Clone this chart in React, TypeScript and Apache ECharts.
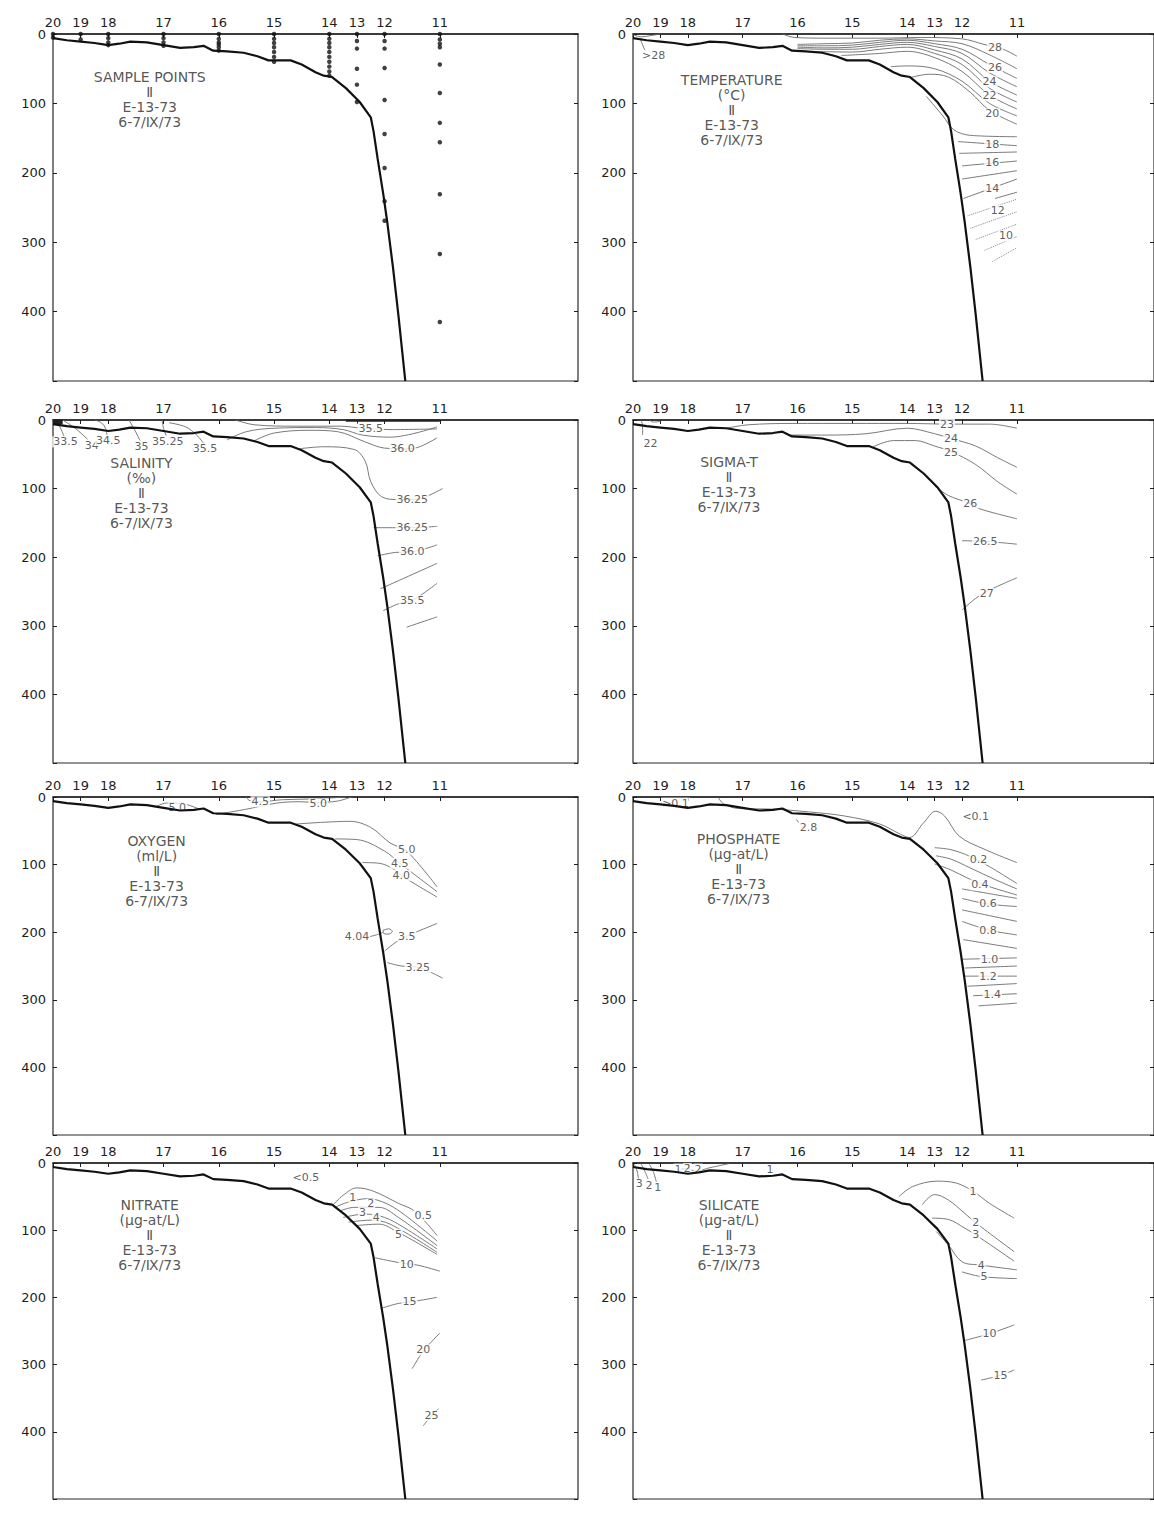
import React, { useEffect, useRef } from 'react';
import * as echarts from 'echarts';

// ---------- DATA ----------
const stationNames = ['20', '19', '18', '17', '16', '15', '14', '13', '12', '11'];
const stationPos = [0, 1, 2, 4, 6, 8, 10, 11, 12, 14];
const depthTicks = [0, 100, 200, 300, 400];

// bottom profile [distance unit, depth m]
const seafloor = [
  [0, 6], [0.5, 9], [1, 11], [1.5, 13], [2, 16], [2.4, 14], [2.8, 11], [3.4, 12], [4, 16], [4.6, 20],
  [5.1, 19], [5.45, 17], [5.8, 24], [6.3, 25], [6.9, 27], [7.4, 32], [7.8, 38], [8.6, 38], [9.0, 44],
  [9.5, 55], [9.8, 60], [10.1, 62], [10.6, 78], [11.1, 98], [11.5, 120], [11.6, 140], [11.75, 180],
  [11.95, 230], [12.1, 272], [12.3, 335], [12.5, 405], [12.75, 500],
];

// sample depths per station (same order as stationNames)
const sampleDepths = [
  [0, 5],
  [0, 8],
  [0, 6, 12, 16],
  [0, 6, 12, 17],
  [0, 7, 12, 15, 19, 24],
  [0, 7, 13, 19, 26, 33, 40],
  [0, 7, 13, 19, 26, 33, 40, 47, 54, 60],
  [0, 10, 21, 50, 73, 98],
  [0, 10, 21, 49, 95, 144, 193, 241, 269],
  [0, 8, 14, 19, 44, 85, 128, 156, 231, 317, 415],
];

// TEMPERATURE
const temperatureLines = [
  [[0, 1], [0.3, 4], [0.7, 2], [1, 0]],
  [[0.25, 6], [0.45, 25]],
  [[5.45, 0], [5.9, 5], [7, 6], [9, 6], [10.5, 5], [12, 7], [12.8, 15], [13.5, 22], [14, 32]],
  [[6, 15], [7, 14], [8, 13], [9, 9], [10, 7], [11, 10], [12, 14], [13, 30], [14, 50]],
  [[6, 17], [7, 17], [8, 16], [9, 12], [10, 9], [11, 14], [12, 22], [13, 44], [14, 64]],
  [[6, 19], [7, 20], [8, 19], [9, 15], [10, 12], [11, 18], [12, 28], [13, 56], [14, 76]],
  [[6, 21], [7, 22], [8, 22], [9, 18], [10, 15], [11, 23], [12, 36], [13, 68], [14, 88]],
  [[6.5, 25], [8, 26], [9, 22], [10, 19], [11, 28], [12, 44], [13, 78], [14, 98]],
  [[7.6, 31], [9, 28], [10, 25], [11, 34], [12, 54], [13, 88], [14, 108]],
  [[9.4, 47], [10, 46], [11, 50], [12, 68], [13, 100], [14, 118]],
  [[10.1, 63], [10.8, 58], [11.5, 62], [12.3, 84], [13, 110], [14, 130]],
  [[10.7, 90], [11.3, 118], [11.7, 138], [12.3, 146], [14, 148]],
  [[11.85, 155], [14, 161]],
  [[11.9, 172], [14, 170]],
  [[12, 190], [14, 183]],
  [[12, 209], [14, 197]],
  [[12.05, 237], [14, 209]],
  [[13.2, 237], [14, 228]],
];
const temperatureDotted = [
  [[12.2, 262], [14, 238]],
  [[12.3, 280], [14, 256]],
  [[12.5, 296], [14, 274]],
  [[12.8, 312], [14, 292]],
  [[13.1, 328], [14, 308]],
];
const temperatureLabels = [
  [0.75, 31, '>28'], [13.2, 19, '28'], [13.2, 48, '26'], [13.0, 69, '24'], [13.0, 89, '22'],
  [13.1, 115, '20'], [13.1, 159, '18'], [13.1, 185, '16'], [13.1, 222, '14'], [13.3, 254, '12'], [13.6, 291, '10'],
];

// SALINITY
const salinityLines = [
  [[0.1, 0], [0.25, 10], [0.4, 24]],
  [[0.35, 0], [0.8, 12], [1.25, 28]],
  [[1.5, 0], [1.75, 4], [1.9, 12], [1.95, 22]],
  [[2.75, 0], [2.95, 14], [3.15, 30]],
  [[3.95, 0], [4.0, 12], [4.1, 23]],
  [[4.2, 4], [4.8, 10], [5.2, 22], [5.45, 34]],
  [[6.6, 0], [7.3, 7], [8.8, 9], [10.4, 9], [11.2, 12], [12.2, 14], [13.9, 13]],
  [[6.3, 29], [7, 17], [8, 12], [9.5, 11], [10.5, 14], [11.2, 22], [12.2, 25], [13.9, 10]],
  [[7.3, 30], [8, 19], [9.3, 15], [10.3, 17], [11.3, 32], [12.0, 41], [12.7, 42], [13.2, 40], [13.9, 26]],
  [[8.9, 42], [9.8, 39], [10.9, 43], [11.3, 60], [11.5, 90], [11.9, 112], [12.5, 116], [13.2, 116], [13.6, 110], [14.1, 100]],
  [[11.6, 157], [12.4, 157], [13, 157], [13.9, 155]],
  [[11.75, 198], [12.4, 193], [13, 192], [13.9, 182]],
  [[11.85, 246], [13.9, 209]],
  [[11.95, 278], [12.5, 268], [13, 263], [13.9, 238]],
  [[12.8, 302], [13.9, 287]],
];
const salinityBands = [
  [[0, 2.5], [0.35, 2.5]],
  [[10.6, 1], [14, 1]],
];
const salinityLabels = [
  [0.45, 32, '33.5'], [1.4, 37, '34'], [2.0, 30, '34.5'], [3.2, 39, '35'], [4.15, 31, '35.25'],
  [5.5, 42, '35.5'], [11.5, 12, '35.5'], [12.65, 42, '36.0'], [13.0, 116, '36.25'],
  [13.0, 157, '36.25'], [13.0, 192, '36.0'], [13.0, 263, '35.5'],
];

// SIGMA-T
const sigmaLines = [
  [[0.3, 0], [0.35, 10], [0.35, 22]],
  [[0.6, 0], [0.75, 3], [1.0, 2]],
  [[3.4, 12], [4.2, 7], [5.8, 5], [8, 5], [10, 5], [11.5, 6], [13, 6], [14, 12]],
  [[5.75, 22], [7, 22], [8.5, 20], [10, 12], [11, 20], [11.6, 27], [12.5, 38], [13.3, 55], [14, 69]],
  [[8.76, 39], [9.5, 30], [10.3, 30], [11, 38], [11.6, 46], [12.5, 65], [13.3, 90], [14, 108]],
  [[11.0, 96], [11.5, 110], [12.3, 122], [12.6, 129], [14, 144]],
  [[12.0, 176], [12.85, 177], [14, 181]],
  [[12.0, 277], [12.5, 260], [13, 248], [14, 230]],
];
const sigmaLabels = [
  [0.64, 34, '22'], [11.45, 6, '23'], [11.6, 27, '24'], [11.6, 47, '25'], [12.3, 122, '26'],
  [12.85, 177, '26.5'], [12.9, 253, '27'],
];

// OXYGEN
const oxygenLines = [
  [[3.7, 15], [4.1, 9], [4.7, 10], [5.3, 18]],
  [[5.9, 26], [7.0, 18], [8.1, 9], [8.9, 7], [9.6, 8], [10.3, 6], [10.8, 0]],
  [[7.0, 0], [7.1, 5], [7.5, 7], [8.3, 4], [9.3, 3], [10.6, 0]],
  [[8.8, 40], [10.75, 36], [11.5, 45], [12.2, 68], [12.8, 80], [13.9, 133]],
  [[10.2, 62], [11.0, 63], [12.0, 80], [12.55, 98], [13.9, 140]],
  [[11.2, 97], [11.8, 98], [12.3, 106], [12.6, 116], [13.9, 148]],
  [[12.0, 228], [12.4, 215], [12.8, 206], [13.9, 187]],
  [[12.1, 245], [12.6, 250], [13.2, 252], [14.1, 268]],
  [[11.4, 207], [11.7, 204], [11.95, 200]],
  [[11.95, 197], [12.15, 195], [12.28, 199], [12.12, 203], [11.95, 201], [11.95, 197]],
];
const oxygenLabels = [
  [4.5, 16, '5.0'], [7.5, 7, '4.5'], [9.6, 10, '5.0'], [12.8, 77, '5.0'], [12.55, 98, '4.5'],
  [12.6, 116, '4.0'], [11.0, 206, '4.04'], [12.8, 206, '3.5'], [13.2, 252, '3.25'],
];

// PHOSPHATE
const phosphateLines = [
  [[3.1, 0], [3.3, 10], [3.85, 17], [5.1, 18], [6.4, 22], [7.7, 28], [9, 40], [9.75, 55], [10.08, 60],
    [10.6, 38], [11.04, 21], [11.36, 28], [11.9, 58], [12.8, 77], [14, 97]],
  [[5.95, 33], [6.05, 38]],
  [[11.0, 75], [11.6, 78], [12.3, 88], [13, 103], [14, 128]],
  [[11.05, 87], [11.6, 92], [12.3, 105], [13.2, 122], [14, 136]],
  [[11.0, 99], [11.6, 108], [12.2, 120], [12.8, 130], [14, 145]],
  [[12.0, 136], [13, 143], [14, 150]],
  [[12.0, 150], [12.9, 158], [14, 162]],
  [[12.0, 167], [14, 184]],
  [[12.0, 184], [13, 197], [14, 204]],
  [[12.05, 211], [14, 224]],
  [[12.0, 240], [14, 238]],
  [[12.1, 253], [14, 250]],
  [[12.1, 265], [14, 265]],
  [[12.2, 280], [14, 276]],
  [[12.4, 294], [14, 291]],
  [[12.6, 309], [14, 305]],
];
const phosphateLabels = [
  [1.55, 9, '>0.1'], [12.5, 29, '<0.1'], [6.4, 45, '2.8'], [12.6, 92, '0.2'], [12.65, 130, '0.4'],
  [12.95, 158, '0.6'], [12.95, 197, '0.8'], [13.0, 240, '1.0'], [12.95, 265, '1.2'], [13.1, 292, '1.4'],
];

// NITRATE
const nitrateLines = [
  [[10.1, 64], [10.5, 48], [11.0, 37], [11.6, 42], [12.5, 60], [13.1, 72], [13.9, 108]],
  [[10.2, 66], [10.7, 58], [11.4, 53], [12.1, 61], [12.75, 78], [13.9, 116]],
  [[10.4, 71], [10.9, 66], [11.8, 66], [12.5, 81], [13.9, 123]],
  [[10.5, 81], [11.3, 76], [12.0, 81], [12.7, 96], [13.9, 128]],
  [[10.7, 88], [11.5, 85], [12.2, 91], [13.9, 133]],
  [[11.0, 93], [11.8, 91], [12.4, 101], [13.9, 136]],
  [[11.65, 141], [12.5, 148], [13.2, 152], [14, 161]],
  [[11.9, 216], [12.5, 209], [13.2, 205], [13.9, 200]],
  [[13.0, 306], [13.4, 280], [14, 253]],
  [[13.4, 391], [13.7, 376], [13.95, 366]],
];
const nitrateLabels = [
  [9.15, 21, '<0.5'], [13.4, 78, '0.5'], [10.85, 51, '1'], [11.5, 61, '2'], [11.2, 73, '3'],
  [11.7, 81, '4'], [12.5, 106, '5'], [12.8, 151, '10'], [12.9, 206, '15'], [13.4, 278, '20'], [13.7, 376, '25'],
];

// SILICATE
const silicateLines = [
  [[0.05, 2], [0.15, 12], [0.2, 24]],
  [[0.3, 2], [0.45, 14], [0.55, 24]],
  [[0.6, 2], [0.75, 14], [0.85, 28]],
  [[1.55, 14], [1.9, 8], [2.3, 12], [2.8, 7], [3.5, 1]],
  [[4.95, 3], [5.0, 7]],
  [[9.7, 50], [10.2, 35], [11.1, 27], [11.8, 30], [12.4, 42], [13.0, 60], [13.9, 82]],
  [[10.55, 62], [11.0, 47], [11.5, 55], [12.1, 75], [12.5, 89], [13.9, 132]],
  [[10.9, 82], [11.5, 84], [12.1, 97], [12.5, 107], [13.9, 146]],
  [[11.06, 102], [11.5, 122], [12.0, 147], [12.7, 152], [14, 159]],
  [[12.0, 162], [12.7, 169], [14, 172]],
  [[12.1, 264], [13.0, 254], [13.9, 241]],
  [[12.7, 323], [13.4, 316], [13.9, 308]],
];
const silicateLabels = [
  [0.23, 31, '3'], [0.58, 33, '2'], [0.9, 37, '1'], [1.64, 9, '1'], [1.98, 8, '2'], [2.37, 9, '2'],
  [5.0, 10, '1'], [12.4, 42, '1'], [12.5, 89, '2'], [12.5, 107, '3'], [12.7, 152, '4'], [12.8, 169, '5'],
  [13.0, 254, '10'], [13.4, 316, '15'],
];

const panelTitles = ['SAMPLE POINTS', 'TEMPERATURE', 'SALINITY', 'SIGMA-T', 'OXYGEN', 'PHOSPHATE', 'NITRATE', 'SILICATE'];
const panelUnits = ['', '(°C)', '(‰)', '', '(ml/L)', '(µg-at/L)', '(µg-at/L)', '(µg-at/L)'];
const cruiseLines = ['Ⅱ', 'E-13-73', '6-7/Ⅸ/73'];
const titleAnchors = [[3.5, 50], [3.6, 55], [3.2, 51], [3.5, 50], [3.75, 53], [3.85, 51], [3.5, 51], [3.5, 51]];

// ---------- LAYOUT / STYLE ----------
const FONT = '"DejaVu Sans", "Liberation Sans", sans-serif';
const INK = '#1e1e1e';
const ROW_TOPS = [34, 420, 797, 1163];
const ROW_HEIGHTS = [347, 343, 338, 336];
const COL_LEFTS = [53, 633];
const COL_WIDTHS = [525, 528];

const panelData = [
  { lines: [], dotted: [], bands: [], labels: [] },
  { lines: temperatureLines, dotted: temperatureDotted, bands: [], labels: temperatureLabels },
  { lines: salinityLines, dotted: [], bands: salinityBands, labels: salinityLabels },
  { lines: sigmaLines, dotted: [], bands: [], labels: sigmaLabels },
  { lines: oxygenLines, dotted: [], bands: [], labels: oxygenLabels },
  { lines: phosphateLines, dotted: [], bands: [], labels: phosphateLabels },
  { lines: nitrateLines, dotted: [], bands: [], labels: nitrateLabels },
  { lines: silicateLines, dotted: [], bands: [], labels: silicateLabels },
];

function stationLabel(v: number): string {
  const i = stationPos.indexOf(Math.round(v * 100) / 100);
  return i >= 0 ? stationNames[i] : '';
}

function buildOption() {
  const grid: any[] = [];
  const xAxis: any[] = [];
  const yAxis: any[] = [];
  const series: any[] = [];

  panelData.forEach((p, i) => {
    const row = Math.floor(i / 2);
    const col = i % 2;
    grid.push({
      left: COL_LEFTS[col], top: ROW_TOPS[row], width: COL_WIDTHS[col], height: ROW_HEIGHTS[row],
      show: true, borderColor: '#2a2a2a', borderWidth: 1.2, backgroundColor: 'transparent',
    });
    xAxis.push({
      gridIndex: i, type: 'value', min: 0, max: 19, position: 'top',
      axisLine: { show: true, lineStyle: { color: INK, width: 1.5 } },
      axisTick: { show: true, inside: true, length: 4, customValues: stationPos, lineStyle: { color: INK } },
      axisLabel: {
        show: true, customValues: stationPos, formatter: (v: number) => stationLabel(v),
        fontSize: 13, color: INK, fontFamily: FONT, margin: 5,
      },
      splitLine: { show: false },
    });
    yAxis.push({
      gridIndex: i, type: 'value', min: 0, max: 500, interval: 100, inverse: true, position: 'left',
      axisLine: { show: false },
      axisTick: { show: true, inside: true, length: 4, lineStyle: { color: INK } },
      axisLabel: {
        formatter: (v: number) => (depthTicks.indexOf(v) >= 0 ? String(v) : ''),
        fontSize: 13, color: INK, fontFamily: FONT, margin: 7,
      },
      splitLine: { show: false },
    });
    yAxis.push({
      gridIndex: i, type: 'value', min: 0, max: 500, interval: 100, inverse: true, position: 'right',
      axisLine: { show: false },
      axisTick: { show: true, inside: true, length: 4, lineStyle: { color: INK } },
      axisLabel: { show: false },
      splitLine: { show: false },
    });

    const ax = { xAxisIndex: i, yAxisIndex: 2 * i };

    p.lines.forEach((pts: number[][]) => {
      series.push({
        type: 'line', ...ax, data: pts, smooth: 0.35, symbol: 'none', silent: true, z: 2,
        lineStyle: { color: '#6b6b6b', width: 0.9 },
      });
    });
    p.dotted.forEach((pts: number[][]) => {
      series.push({
        type: 'line', ...ax, data: pts, smooth: 0.3, symbol: 'none', silent: true, z: 2,
        lineStyle: { color: '#888', width: 1, type: 'dotted' },
      });
    });
    p.bands.forEach((pts: number[][], k: number) => {
      series.push({
        type: 'line', ...ax, data: pts, symbol: 'none', silent: true, z: 4,
        lineStyle: { color: '#222', width: k === 0 ? 5 : 2.2 },
      });
    });
    if (p.labels.length) {
      series.push({
        type: 'scatter', ...ax, symbolSize: 1, silent: true, z: 3,
        itemStyle: { color: 'rgba(0,0,0,0)' },
        data: p.labels.map(([x, d, t]: any) => ({ value: [x, d], name: t })),
        label: {
          show: true, position: 'inside', formatter: '{b}', fontSize: 11, color: '#333',
          fontFamily: FONT, backgroundColor: '#fff', padding: [0, 1],
        },
      });
    }

    // title block
    const lines = [panelTitles[i]];
    if (panelUnits[i]) lines.push(panelUnits[i]);
    lines.push(...cruiseLines);
    series.push({
      type: 'scatter', ...ax, symbolSize: 1, silent: true, z: 3,
      itemStyle: { color: 'rgba(0,0,0,0)' },
      data: [{ value: titleAnchors[i] }],
      label: {
        show: true, position: 'bottom', distance: 0, formatter: lines.join('\n'),
        fontSize: 14, lineHeight: 15, align: 'center', color: '#2a2a2a', fontFamily: FONT,
      },
    });

    // seafloor
    series.push({
      type: 'line', ...ax, data: seafloor, symbol: 'none', silent: true, z: 5,
      lineStyle: { color: '#111', width: 2.2 },
    });

    if (i === 0) {
      const pts: number[][] = [];
      stationPos.forEach((x, s) => sampleDepths[s].forEach((d) => pts.push([x, d])));
      series.push({
        type: 'scatter', ...ax, data: pts, symbolSize: 4.5, silent: true, z: 6,
        itemStyle: { color: '#111' },
      });
    }
  });

  return {
    animation: false,
    backgroundColor: '#fff',
    textStyle: { fontFamily: FONT },
    grid, xAxis, yAxis, series,
  };
}

export default function App() {
  const ref = useRef<HTMLDivElement>(null);
  useEffect(() => {
    if (!ref.current) return;
    const chart = echarts.init(ref.current, null, { renderer: 'svg' });
    chart.setOption(buildOption() as any);
    return () => chart.dispose();
  }, []);
  return (
    <div
      ref={ref}
      style={{ position: 'absolute', left: 0, top: 0, width: 1154, height: 1520, background: '#fff' }}
    />
  );
}
